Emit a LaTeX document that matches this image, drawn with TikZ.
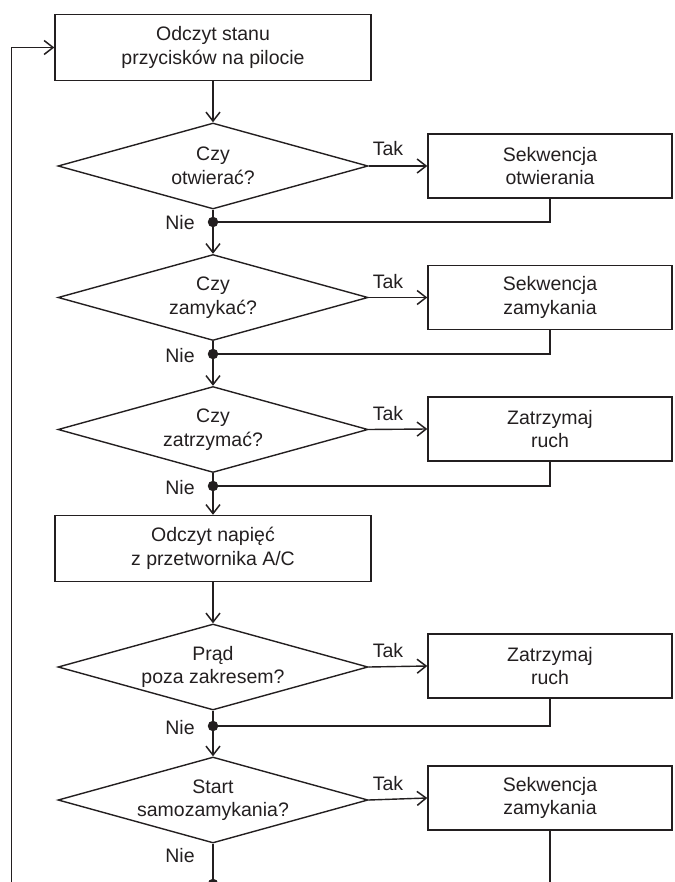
\documentclass[tikz,border=0pt]{standalone}
\usepackage{fontspec}
\setmainfont{Liberation Sans}
\usetikzlibrary{shapes.geometric,arrows.meta}
\definecolor{ink}{HTML}{231F20}
\begin{document}
\begin{tikzpicture}[x=1pt,y=-1pt,
  every node/.style={font=\fontsize{19.5}{23.5}\selectfont, text=ink},
  box/.style={draw=ink, line width=1.4pt, minimum width=316pt, minimum height=66pt, align=center, inner sep=0},
  sbox/.style={draw=ink, line width=1.4pt, minimum width=244pt, minimum height=64pt, align=center, inner sep=0},
  dia/.style={draw=ink, line width=1.4pt, diamond, aspect=3.6, minimum width=310pt, minimum height=86pt, inner sep=0, align=center},
  conn/.style={draw=ink, line width=1.4pt},
  arr/.style={conn, -{Straight Barb[length=9pt,width=14pt,line width=1.5pt]}},
  dot/.style={circle, fill=ink, inner sep=0, minimum size=10.5pt},
  lbl/.style={inner sep=0, anchor=base}
]
\useasboundingbox (0,0) rectangle (674,882);
\clip (0,0) rectangle (674,882);

% first block
\node[box] (b1) at (213,47.5) {Odczyt stanu\\przycisków na pilocie};

\node[dia] (d1) at (213,166) {Czy\\otwierać?};
\node[sbox] (s1) at (550,166) {Sekwencja\\otwierania};
\node[dot] (p1) at (213,222) {};
\node[lbl] (n1) at (180,230) {Nie};
\node[lbl] (t1) at (388,156) {Tak};

\node[dia] (d2) at (213,297.5) {Czy\\zamykać?};
\node[sbox] (s2) at (550,297.5) {Sekwencja\\zamykania};
\node[dot] (p2) at (213,354) {};
\node[lbl] (n2) at (180,362) {Nie};
\node[lbl] (t2) at (388,288) {Tak};

\node[dia] (d3) at (213,429.5) {Czy\\zatrzymać?};
\node[sbox] (s3) at (550,429) {Zatrzymaj\\ruch};
\node[dot] (p3) at (213,486) {};
\node[lbl] (n3) at (180,494) {Nie};
\node[lbl] (t3) at (388,420) {Tak};

\node[box] (b4) at (213,548.5) {Odczyt napięć\\z przetwornika A/C};

\node[dia] (d5) at (213,667) {Prąd\\poza zakresem?};
\node[sbox] (s5) at (550,666) {Zatrzymaj\\ruch};
\node[dot] (p5) at (213,726) {};
\node[lbl] (n5) at (180,734) {Nie};
\node[lbl] (t5) at (388,657) {Tak};

\node[dia] (d6) at (213,800) {Start\\samozamykania?};
\node[sbox] (s6) at (550,798) {Sekwencja\\zamykania};
\node[dot] (p6) at (213,884) {};
\node[lbl] (n6) at (180,862) {Nie};
\node[lbl] (t6) at (388,790) {Tak};

% connectors
\draw[arr] (b1.south) -- (d1.north);
\draw[arr] (d1.east) -- (s1.west);
\draw[conn] (d1.south) -- (p1.center);
\draw[conn] (s1.south) |- (p1.center);
\draw[arr] (p1.center) -- (d2.north);

\draw[arr] (d2.east) -- (s2.west);
\draw[conn] (d2.south) -- (p2.center);
\draw[conn] (s2.south) |- (p2.center);
\draw[arr] (p2.center) -- (d3.north);

\draw[arr] (d3.east) -- (s3.west);
\draw[conn] (d3.south) -- (p3.center);
\draw[conn] (s3.south) |- (p3.center);
\draw[arr] (p3.center) -- (b4.north);

\draw[arr] (b4.south) -- (d5.north);
\draw[arr] (d5.east) -- (s5.west);
\draw[conn] (d5.south) -- (p5.center);
\draw[conn] (s5.south) |- (p5.center);
\draw[arr] (p5.center) -- (d6.north);

\draw[arr] (d6.east) -- (s6.west);
\draw[conn] (d6.south) -- (p6.center);
\draw[conn] (s6.south) |- (p6.center);
\draw[arr] (p6.center) -- ++(0,20) -| ([xshift=-43pt]b1.west) -- (b1.west);
\end{tikzpicture}
\end{document}
